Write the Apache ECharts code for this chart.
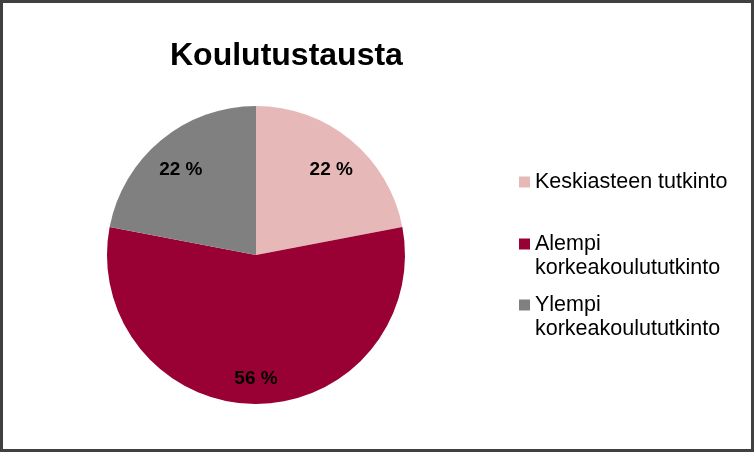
<!DOCTYPE html>
<html><head><meta charset="utf-8">
<script src="https://cdn.jsdelivr.net/npm/echarts@6/dist/echarts.min.js"></script>
<style>html,body{margin:0;padding:0;background:#fff}#c{width:754px;height:452px}</style>
</head><body><div id="c"></div>
<script>
const chartTitle = 'Koulutustausta';
const categories = ['Keskiasteen tutkinto', 'Alempi korkeakoulututkinto', 'Ylempi korkeakoulututkinto'];
const legendLabels = ['Keskiasteen tutkinto', 'Alempi\nkorkeakoulututkinto', 'Ylempi\nkorkeakoulututkinto'];
const values = [22, 56, 22];
const colors = ['#E6B9B8', '#990033', '#808080'];

const font = 'Liberation Sans, Arial, sans-serif';
const chart = echarts.init(document.getElementById('c'), null, {renderer: 'canvas'});

const pieData = categories.map((n, i) => ({name: n, value: values[i], itemStyle: {color: colors[i]}}));
const labelData = categories.map((n, i) => ({name: n, value: values[i]}));

function legendFor(i, top) {
  return {
    data: [categories[i]], left: 519, top: top, orient: 'vertical', padding: 0,
    itemWidth: 11, itemHeight: 11, icon: 'rect', selectedMode: false,
    // multi-line entries: leading empty line keeps the icon level with the first text line
    formatter: name => {
      const t = legendLabels[categories.indexOf(name)];
      return t.indexOf('\n') >= 0 ? '\n' + t : t;
    },
    textStyle: {fontSize: 21.5, lineHeight: 24, color: '#000', fontFamily: font}
  };
}

chart.setOption({
  animation: false,
  backgroundColor: '#fff',
  title: {text: chartTitle, left: 170, top: 40, padding: 0,
    textStyle: {fontSize: 32, fontWeight: 'bold', color: '#000', fontFamily: font}},
  legend: [legendFor(0, 170), legendFor(1, 208), legendFor(2, 269)],
  graphic: [{type: 'rect', shape: {x: 1.5, y: 1.5, width: 751, height: 449},
    style: {fill: 'none', stroke: '#404040', lineWidth: 3}, silent: true, z: 100}],
  series: [
    {type: 'pie', center: [256, 255], radius: [0, 149], startAngle: 90, clockwise: true,
      data: pieData, label: {show: false}, labelLine: {show: false}, silent: true,
      itemStyle: {borderWidth: 0}, emphasis: {disabled: true}},
    {type: 'pie', center: [256, 255], radius: [81, 149], startAngle: 90, clockwise: true,
      data: labelData, silent: true, emphasis: {disabled: true},
      itemStyle: {color: 'rgba(0,0,0,0)', borderWidth: 0},
      label: {show: true, position: 'inside', formatter: '{c} %', fontSize: 19,
        color: '#000', fontFamily: font, fontWeight: 'bold', offset: [0, 6]},
      labelLine: {show: false}}
  ]
});
</script></body></html>
